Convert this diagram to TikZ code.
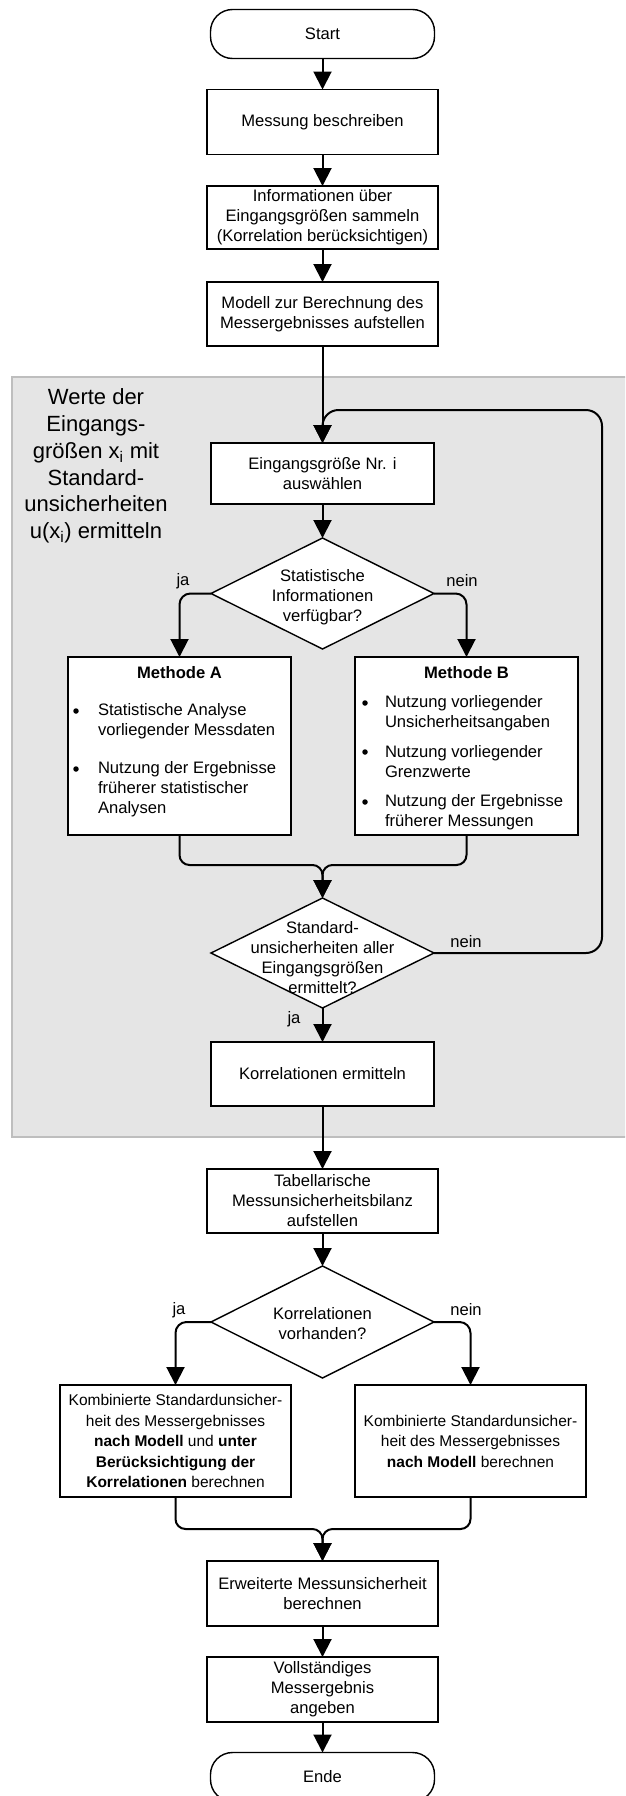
\documentclass[tikz,border=0pt]{standalone}
\usepackage{fontspec}
\setmainfont{Liberation Sans}
\usetikzlibrary{arrows.meta,shapes.geometric}

\definecolor{panelfill}{HTML}{E5E5E5}
\definecolor{panelline}{HTML}{BEBEBE}

\begin{document}
\begin{tikzpicture}[x=1pt,y=-1pt,
  every node/.style={inner sep=0pt, outer sep=0pt},
  txt/.style={font=\fontsize{16.6}{20}\selectfont},
  txtb/.style={font=\fontsize{16.6}{20}\selectfont\bfseries},
  small/.style={font=\fontsize{15.5}{20.5}\selectfont},
  box/.style={draw, fill=white, line width=1.4pt, minimum width=231pt,
    minimum height=64pt, align=center, txt},
  term/.style={draw, fill=white, line width=1.4pt, rounded corners=22pt,
    minimum width=224pt, minimum height=49pt, txt},
  decision/.style={diamond, draw, fill=white, line width=1.4pt,
    minimum width=223pt, minimum height=111pt},
  dot/.style={circle, fill=black, minimum size=5.5pt},
  conn/.style={line width=2pt, -{Triangle[width=18pt,length=18pt]}},
  lab/.style={txt}
]
\useasboundingbox (0,0) rectangle (625,1796);
\begin{scope}
\clip (0,0) rectangle (625,1796);

% shaded panel for the loop over all input quantities
\draw[fill=panelfill, draw=panelline, line width=2pt] (12,377) rectangle (640,1137);
\node[font=\fontsize{22}{26.7}\selectfont, align=center] (paneltitle) at (96,466)
  {Werte der\\Eingangs-\\größen x\textsubscript{i} mit\\Standard-\\unsicherheiten\\u(x\textsubscript{i}) ermitteln};

% main column
\node[term] (start) at (322.5,34) {Start};
\node[box, minimum height=65pt] (messung) at (322.5,122) {Messung beschreiben};
\node[box, minimum height=63pt] (info) at (322.5,217.5)
  {Informationen über\\Eingangsgrößen sammeln\\(Korrelation berücksichtigen)};
\node[box] (modell) at (322.5,314) {Modell zur Berechnung des\\Messergebnisses aufstellen};
\node[box, minimum width=223pt, minimum height=61pt] (auswahl) at (322.5,473.5)
  {Eingangsgröße Nr. i\\auswählen};

\node[decision] (d1) at (322.5,593.5) {};
\node[txt, align=center] (d1t) at (322.5,597) {Statistische\\Informationen\\verfügbar?};

% method A
\node[box, minimum width=223pt, minimum height=178pt] (methA) at (179.5,746) {};
\node[txtb] (methAh) at (179.5,673) {Methode A};
\node[dot] (a1b) at (76,711) {};
\node[txt, anchor=west, align=left] (a1) at (98,721) {Statistische Analyse\\vorliegender Messdaten};
\node[dot] (a2b) at (76,769) {};
\node[txt, anchor=west, align=left] (a2) at (98,789)
  {Nutzung der Ergebnisse\\früherer statistischer\\Analysen};

% method B
\node[box, minimum width=223pt, minimum height=178pt] (methB) at (466.5,746) {};
\node[txtb] (methBh) at (466.5,673) {Methode B};
\node[dot] (b1b) at (365,703) {};
\node[txt, anchor=west, align=left] (b1) at (385,713) {Nutzung vorliegender\\Unsicherheitsangaben};
\node[dot] (b2b) at (365,752) {};
\node[txt, anchor=west, align=left] (b2) at (385,762) {Nutzung vorliegender\\Grenzwerte};
\node[dot] (b3b) at (365,802) {};
\node[txt, anchor=west, align=left] (b3) at (385,812) {Nutzung der Ergebnisse\\früherer Messungen};

\node[decision, minimum height=110pt] (d2) at (322.5,953) {};
\node[txt, align=center] (d2t) at (322.5,958)
  {Standard-\\unsicherheiten aller\\Eingangsgrößen\\ermittelt?};

\node[box, minimum width=223pt] (korr) at (322.5,1074) {Korrelationen ermitteln};

\node[box] (tab) at (322.5,1201) {Tabellarische\\Messunsicherheitsbilanz\\aufstellen};
\node[decision, minimum height=112pt] (d3) at (322.5,1322) {};
\node[txt, align=center] (d3t) at (322.5,1324) {Korrelationen\\vorhanden?};

\node[box, minimum height=112pt, small] (kombA) at (175.5,1441)
  {Kombinierte Standardunsicher-\\heit des Messergebnisses\\\textbf{nach Modell} und \textbf{unter}\\\textbf{Berücksichtigung der}\\\textbf{Korrelationen} berechnen};
\node[box, minimum height=112pt, small] (kombB) at (470.5,1441)
  {Kombinierte Standardunsicher-\\heit des Messergebnisses\\\textbf{nach Modell} berechnen};

\node[box, minimum height=65pt] (erw) at (322.5,1593.5) {Erweiterte Messunsicherheit\\berechnen};
\node[box, minimum height=65pt] (voll) at (322.5,1689.5) {Vollständiges\\Messergebnis\\angeben};
\node[term] (ende) at (322.5,1777) {Ende};

% connectors
\draw[conn] (start) -- (messung);
\draw[conn] (messung) -- (info);
\draw[conn] (info) -- (modell);
\draw[conn] (modell) -- (auswahl);
\draw[conn] (auswahl) -- (d1);
\draw[conn, rounded corners=11pt] (d1.west) -| (methA.north);
\draw[conn, rounded corners=11pt] (d1.east) -| (methB.north);

\coordinate (mergeM) at (322.5,865);
\draw[conn, rounded corners=10pt] (methA.south) |- (mergeM) -- (d2.north);
\draw[conn, rounded corners=10pt] (methB.south) |- (mergeM) -- (d2.north);

\coordinate (loopA) at (602,953);
\coordinate (loopB) at (602,410);
\coordinate (loopC) at (322.5,410);
\draw[conn, rounded corners=16pt] (d2.east) -- (loopA) -- (loopB) -- (loopC) -- (auswahl.north);

\draw[conn] (d2.south) -- (korr.north);
\draw[conn] (korr) -- (tab);
\draw[conn] (tab) -- (d3);
\draw[conn, rounded corners=11pt] (d3.west) -| (kombA.north);
\draw[conn, rounded corners=11pt] (d3.east) -| (kombB.north);

\coordinate (mergeK) at (322.5,1529);
\draw[conn, rounded corners=10pt] (kombA.south) |- (mergeK) -- (erw.north);
\draw[conn, rounded corners=10pt] (kombB.south) |- (mergeK) -- (erw.north);

\draw[conn] (erw) -- (voll);
\draw[conn] (voll) -- (ende);

% branch labels
\node[lab] (ja1) at (183,581) {ja};
\node[lab] (nein1) at (462,581) {nein};
\node[lab] (nein2) at (466,942) {nein};
\node[lab] (ja2) at (294,1019) {ja};
\node[lab] (ja3) at (179,1310) {ja};
\node[lab] (nein3) at (466,1310) {nein};
\end{scope}
\end{tikzpicture}
\end{document}
